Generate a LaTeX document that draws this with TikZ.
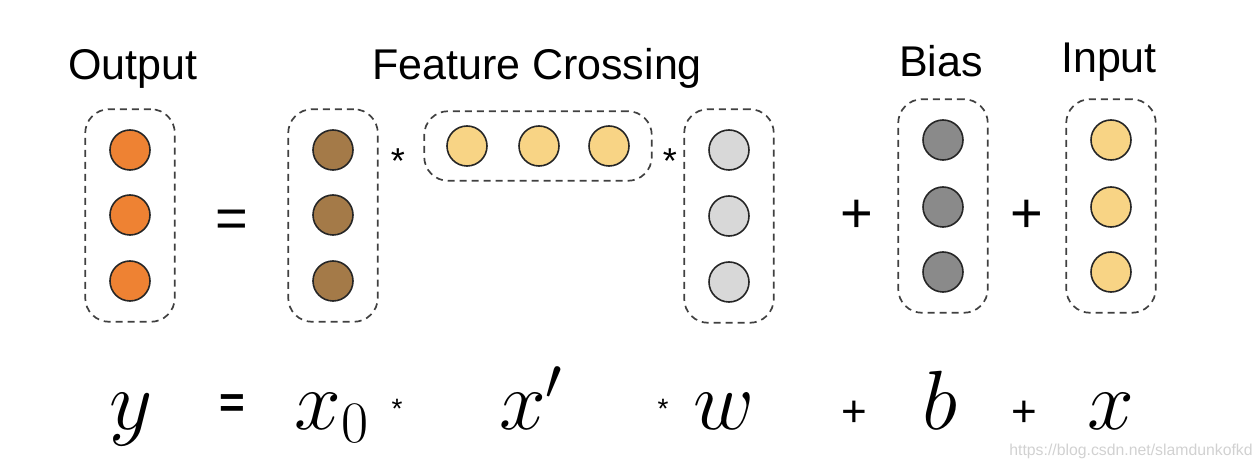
\RequirePackage{fix-cm}
\documentclass[tikz,border=0pt]{standalone}
\usepackage[no-math]{fontspec}
\setmainfont{Liberation Sans}
\usetikzlibrary{fit,positioning}
\definecolor{outorange}{HTML}{EE8233}
\definecolor{crossbrown}{HTML}{A47A48}
\definecolor{unityellow}{HTML}{F8D485}
\definecolor{weightgray}{HTML}{D8D8D8}
\definecolor{biasgray}{HTML}{8A8A8A}

\begin{document}
\begin{tikzpicture}[
    x=0.5pt, y=-0.5pt,
    unit/.style={circle, draw=black!85, line width=0.8pt, minimum size=20pt, inner sep=0pt},
    group/.style={draw=black!75, dash pattern=on 3.5pt off 2.5pt, line width=0.85pt,
      rounded corners=12pt, inner xsep=12pt, inner ysep=10pt},
    lbl/.style={font=\fontsize{21.5}{24}\selectfont, anchor=base},
    op/.style={font=\fontsize{28}{30}\selectfont, anchor=base, inner sep=0pt},
    star/.style={font=\fontsize{18}{20}\selectfont, anchor=base, inner sep=0pt},
    mth/.style={font=\fontsize{42}{46}\selectfont, anchor=base, inner sep=0pt},
    mop/.style={font=\fontsize{22}{24}\selectfont, anchor=base, inner sep=0pt},
  ]
  \useasboundingbox (0,0) rectangle (1260,470);

  % Titles
  \node[lbl] (outlbl) at (133,80) {Output};
  \node[lbl] (crosslbl) at (537,80) {Feature Crossing};
  \node[lbl] (biaslbl) at (941,77) {Bias};
  \node[lbl] (inlbl) at (1109,73) {Input};

  % Output column
  \foreach \i/\y in {1/150,2/215,3/281} {
    \node[unit, fill=outorange] (out\i) at (130,\y) {};
  }
  \node[group, fit=(out1)(out3)] (outbox) {};

  \node[op] (eqtop) at (232,238) {=};

  % x0 column
  \foreach \i/\y in {1/150,2/215,3/281} {
    \node[unit, fill=crossbrown] (xz\i) at (333,\y) {};
  }
  \node[group, fit=(xz1)(xz3)] (xzbox) {};

  \node[star] (startop1) at (398,174) {*};

  % x' row
  \foreach \i/\x in {1/467,2/539,3/609} {
    \node[unit, fill=unityellow] (xt\i) at (\x,146) {};
  }
  \node[group, inner xsep=11pt, inner ysep=7pt, fit=(xt1)(xt3)] (xtbox) {};

  \node[star] (startop2) at (670,174) {*};

  % w column
  \foreach \i/\y in {1/150,2/216,3/282} {
    \node[unit, fill=weightgray] (w\i) at (729,\y) {};
  }
  \node[group, fit=(w1)(w3)] (wbox) {};

  \node[op] (plustop1) at (857,233) {+};

  % Bias column
  \foreach \i/\y in {1/140,2/207,3/272} {
    \node[unit, fill=biasgray] (b\i) at (943,\y) {};
  }
  \node[group, fit=(b1)(b3)] (bbox) {};

  \node[op] (plustop2) at (1027,233) {+};

  % Input column
  \foreach \i/\y in {1/140,2/207,3/272} {
    \node[unit, fill=unityellow] (in\i) at (1111,\y) {};
  }
  \node[group, fit=(in1)(in3)] (inbox) {};

  % Formula
  \node[mth] (ysym) at (131,430) {$y$};
  \node[mop, font=\fontsize{22}{24}\selectfont\bfseries] (eqbot) at (232,418) {=};
  \node[mth] (xzsym) at (332,430) {$x_0$};
  \node[star, font=\fontsize{14}{16}\selectfont] (starbot1) at (397,419) {*};
  \node[mth] (xtsym) at (531,430) {$x'$};
  \node[star, font=\fontsize{14}{16}\selectfont] (starbot2) at (663,419) {*};
  \node[mth] (wsym) at (724,430) {$w$};
  \node[mop] (plusbot1) at (854,427) {+};
  \node[mth] (bsym) at (940,430) {$b$};
  \node[mop] (plusbot2) at (1024,427) {+};
  \node[mth] (xsym) at (1111,430) {$x$};

  \node[font=\fontsize{7.9}{9}\selectfont, text=black!18, anchor=base] (mark)
    at (1131,456) {https://blog.csdn.net/slamdunkofkd};

\end{tikzpicture}
\end{document}
